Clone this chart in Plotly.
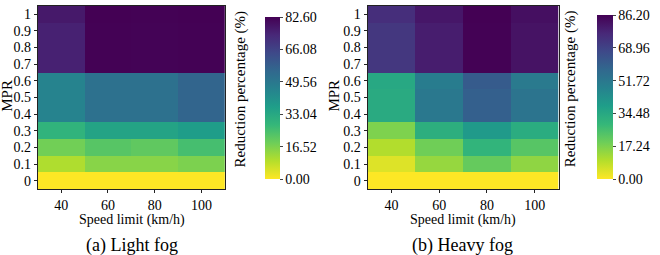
import plotly.graph_objects as go

speeds = [40, 60, 80, 100]
mpr = [0, 0.1, 0.2, 0.3, 0.4, 0.5, 0.6, 0.7, 0.8, 0.9, 1.0]
mpr_labels = ["0", "0.1", "0.2", "0.3", "0.4", "0.5", "0.6", "0.7", "0.8", "0.9", "1"]

# rows = MPR (bottom to top), columns = speed limit
light_fog = [
    [0.0, 0.0, 0.0, 0.0],
    [10.0, 15.0, 15.0, 16.5],
    [18.0, 22.0, 20.6, 24.8],
    [29.0, 34.7, 34.7, 37.0],
    [45.4, 52.0, 52.0, 56.0],
    [45.4, 52.0, 52.0, 56.0],
    [45.4, 52.0, 52.0, 56.0],
    [75.0, 82.4, 82.2, 82.4],
    [75.0, 82.4, 82.2, 82.4],
    [75.0, 82.4, 82.2, 82.4],
    [77.0, 82.6, 82.3, 82.5],
]
heavy_fog = [
    [0.0, 0.0, 0.0, 0.0],
    [4.3, 13.8, 20.7, 14.7],
    [10.0, 19.0, 30.0, 23.0],
    [17.0, 32.0, 39.7, 33.0],
    [33.6, 51.7, 60.0, 53.0],
    [33.6, 51.7, 60.0, 53.0],
    [34.5, 50.0, 61.5, 51.0],
    [72.4, 79.3, 86.0, 81.9],
    [72.4, 79.3, 86.0, 81.9],
    [72.4, 79.3, 86.0, 81.9],
    [75.0, 81.0, 86.2, 82.8],
]
light_max = 82.60
heavy_max = 86.20
light_ticks = [0.0, 16.52, 33.04, 49.56, 66.08, 82.60]
heavy_ticks = [0.0, 17.24, 34.48, 51.72, 68.96, 86.20]
x_title = "Speed limit (km/h)"
y_title = "MPR"
cb_title = "Reduction percentage (%)"
captions = ["(a) Light fog", "(b) Heavy fog"]

W, H = 660, 255
FONT = "Liberation Serif"


def px(x):
    return x / W


def py(y):
    return (H - y) / H


fig = go.Figure()
fig.add_trace(go.Heatmap(x=speeds, y=mpr, z=light_fog, coloraxis="coloraxis",
                         xaxis="x", yaxis="y"))
fig.add_trace(go.Heatmap(x=speeds, y=mpr, z=heavy_fog, coloraxis="coloraxis2",
                         xaxis="x2", yaxis="y2"))

ydom = [py(189), py(6)]
axis_common = dict(showline=True, linecolor="#222", linewidth=1, mirror=True,
                   ticks="outside", ticklen=3, tickcolor="#222",
                   tickfont=dict(family=FONT, size=14, color="black"),
                   showgrid=False, zeroline=False)

fig.update_layout(
    width=W, height=H, margin=dict(l=0, r=0, t=0, b=0),
    paper_bgcolor="white", plot_bgcolor="white",
    font=dict(family=FONT, size=14, color="black"),
    xaxis=dict(domain=[px(39), px(232)], range=[30, 110], tickvals=speeds,
               anchor="y", **axis_common),
    yaxis=dict(domain=ydom, range=[-0.05, 1.05], tickvals=mpr, ticktext=mpr_labels,
               anchor="x", **axis_common),
    xaxis2=dict(domain=[px(379), px(576)], range=[30, 110], tickvals=speeds,
                anchor="y2", **axis_common),
    yaxis2=dict(domain=ydom, range=[-0.05, 1.05], tickvals=mpr, ticktext=mpr_labels,
                anchor="x2", **axis_common),
    coloraxis=dict(colorscale="Viridis", reversescale=True, cmin=0, cmax=light_max,
                   colorbar=dict(x=px(263), xanchor="left", y=py(189), yanchor="bottom",
                                 len=(189 - 7) / H, lenmode="fraction", thickness=15,
                                 outlinewidth=0, tickmode="array", tickvals=light_ticks,
                                 ticktext=[f"{v:.2f}" for v in light_ticks],
                                 ticks="outside", ticklen=3, tickcolor="#444",
                                 tickfont=dict(family=FONT, size=14, color="black"))),
    coloraxis2=dict(colorscale="Viridis", reversescale=True, cmin=0, cmax=heavy_max,
                    colorbar=dict(x=px(605), xanchor="left", y=py(189), yanchor="bottom",
                                  len=(189 - 5) / H, lenmode="fraction", thickness=16,
                                  outlinewidth=0, tickmode="array", tickvals=heavy_ticks,
                                  ticktext=[f"{v:.2f}" for v in heavy_ticks],
                                  ticks="outside", ticklen=3, tickcolor="#444",
                                  tickfont=dict(family=FONT, size=14, color="black"))),
)

ann = []
for xc, cap in [(136, captions[0]), (477, captions[1])]:
    ann.append(dict(x=px(xc), y=py(220), xref="paper", yref="paper", text=x_title,
                    xanchor="center", yanchor="middle",
                    showarrow=False, font=dict(family=FONT, size=14)))
    ann.append(dict(x=px(xc), y=py(245), xref="paper", yref="paper", text=cap,
                    xanchor="center", yanchor="middle",
                    showarrow=False, font=dict(family=FONT, size=18)))
for xc in [7, 344]:
    ann.append(dict(x=px(xc), y=py(96), xref="paper", yref="paper", text=y_title,
                    xanchor="center", yanchor="middle",
                    textangle=-90, showarrow=False, font=dict(family=FONT, size=15)))
for xc in [248, 588]:
    ann.append(dict(x=px(xc), y=py(89), xref="paper", yref="paper", text=cb_title,
                    xanchor="center", yanchor="middle",
                    textangle=-90, showarrow=False, font=dict(family=FONT, size=15)))
fig.update_layout(annotations=ann)

fig.write_html("out.html")
